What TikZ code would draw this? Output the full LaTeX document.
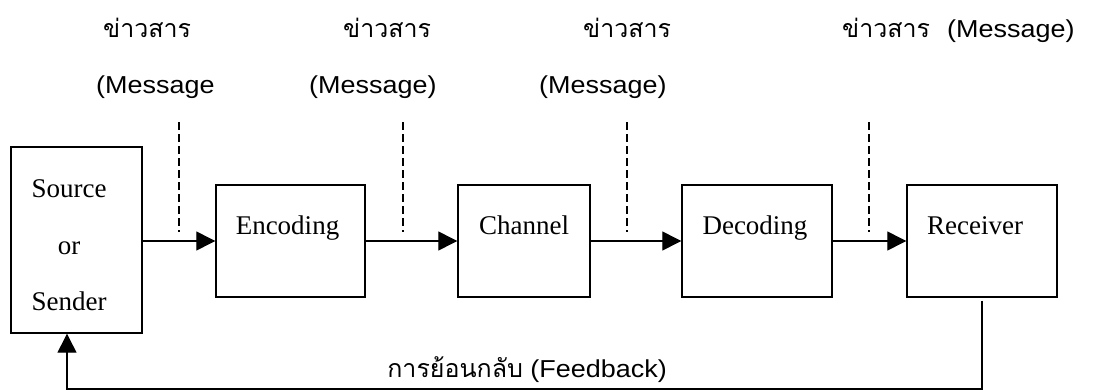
\documentclass[tikz,border=0pt]{standalone}
\usepackage{fontspec}
\setmainfont{Liberation Serif}
\newfontfamily\thaifont[Script=Thai]{Loma}
\newfontfamily\latinsans[FakeStretch=1.1]{Liberation Sans}
\usetikzlibrary{arrows.meta}
\begin{document}
\begin{tikzpicture}[x=1pt,y=-1pt,
  blk/.style={draw, line width=1.4pt, inner sep=0pt},
  lbl/.style={font=\fontsize{27}{27}\selectfont, inner sep=0pt, anchor=base},
  flow/.style={line width=1.3pt, -{Triangle[length=19pt,width=19pt]}},
  guide/.style={line width=1.2pt, dash pattern=on 8pt off 4pt},
  thai/.style={font=\thaifont\fontsize{25}{25}\selectfont, inner sep=0pt, anchor=base west},
  msg/.style={font=\latinsans\fontsize{24.5}{24.5}\selectfont, inner sep=0pt, anchor=base west}]
\useasboundingbox (0,0) rectangle (1120,391);

% blocks of the chain
\node[blk, minimum width=131pt, minimum height=186pt] (src) at (76.5,240) {};
\node[blk, minimum width=149pt, minimum height=112pt] (enc) at (290.5,241) {};
\node[blk, minimum width=132pt, minimum height=112pt] (chn) at (524,241) {};
\node[blk, minimum width=150pt, minimum height=112pt] (dec) at (757,241) {};
\node[blk, minimum width=150pt, minimum height=112pt] (rcv) at (982,241) {};

% block captions
\node[lbl] (srcA) at (69,197) {Source};
\node[lbl] (srcB) at (69,254) {or};
\node[lbl] (srcC) at (69,310) {Sender};
\node[lbl] (encT) at (287.5,234) {Encoding};
\node[lbl] (chnT) at (524,234) {Channel};
\node[lbl] (decT) at (755,234) {Decoding};
\node[lbl] (rcvT) at (975,234) {Receiver};

% forward flow
\draw[flow] (src.east |- enc.west) -- (enc.west);
\draw[flow] (enc.east) -- (chn.west);
\draw[flow] (chn.east) -- (dec.west);
\draw[flow] (dec.east) -- (rcv.west);

% message taps
\foreach \i/\x in {1/179, 2/403, 3/627, 4/869} {
  \coordinate (tap\i t) at (\x,122);
  \coordinate (tap\i b) at (\x,232);
  \draw[guide] (tap\i t) -- (tap\i b);
}

% message labels
\node[thai] (m1) at (103,37) {ข่าวสาร};
\node[thai] (m2) at (343,37) {ข่าวสาร};
\node[thai] (m3) at (583,37) {ข่าวสาร};
\node[thai] (m4) at (842,37) {ข่าวสาร};
\node[msg] (e4) at (947,37) {(Message)};
\node[msg] (e1) at (96,93) {(Message};
\node[msg] (e2) at (309,93) {(Message)};
\node[msg] (e3) at (539,93) {(Message)};

% feedback loop
\coordinate (fbR) at (982,389);
\coordinate (fbL) at (67,389);
\draw[flow] ([yshift=-3pt]rcv.south) -- (fbR) -- (fbL) -- (fbL |- src.south);
\node[msg, anchor=base east] (fb) at (667,377)
  {{\thaifont\fontsize{25}{25}\selectfont การย้อนกลับ} (Feedback)};
\end{tikzpicture}
\end{document}
